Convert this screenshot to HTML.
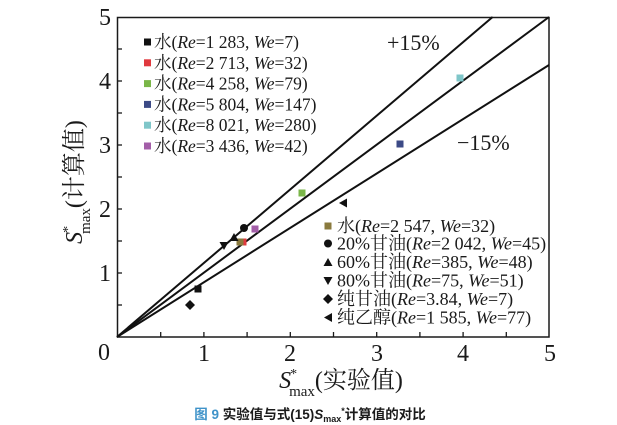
<!DOCTYPE html>
<html><head><meta charset="utf-8"><style>
html,body{margin:0;padding:0;background:#fff;}
svg{display:block;}
text{font-family:"Liberation Serif","Noto Serif CJK SC",serif;fill:#1a1a1a;}
.cap{font-family:"Liberation Sans","Noto Sans CJK SC",sans-serif;font-weight:bold;}
</style></head><body>
<svg width="617" height="425" viewBox="0 0 617 425" xmlns="http://www.w3.org/2000/svg">
<rect x="0" y="0" width="617" height="425" fill="#fff"/>
<!-- plot frame -->
<rect x="117.5" y="17.5" width="431.5" height="319.5" fill="none" stroke="#1a1a1a" stroke-width="1.5"/>
<!-- ticks bottom -->
<g stroke="#1a1a1a" stroke-width="1.3">
<line x1="160.7" y1="337" x2="160.7" y2="332"/>
<line x1="203.9" y1="337" x2="203.9" y2="332"/>
<line x1="247.1" y1="337" x2="247.1" y2="332"/>
<line x1="290.3" y1="337" x2="290.3" y2="332"/>
<line x1="333.5" y1="337" x2="333.5" y2="332"/>
<line x1="376.7" y1="337" x2="376.7" y2="332"/>
<line x1="419.9" y1="337" x2="419.9" y2="332"/>
<line x1="463.1" y1="337" x2="463.1" y2="332"/>
<line x1="506.3" y1="337" x2="506.3" y2="332"/>
<!-- ticks left -->
<line x1="117" y1="305" x2="122" y2="305"/>
<line x1="117" y1="273" x2="122" y2="273"/>
<line x1="117" y1="241" x2="122" y2="241"/>
<line x1="117" y1="209" x2="122" y2="209"/>
<line x1="117" y1="177" x2="122" y2="177"/>
<line x1="117" y1="145" x2="122" y2="145"/>
<line x1="117" y1="113" x2="122" y2="113"/>
<line x1="117" y1="81" x2="122" y2="81"/>
<line x1="117" y1="49" x2="122" y2="49"/>
</g>
<!-- reference lines -->
<g stroke="#111" stroke-width="2" fill="none">
<line x1="117" y1="337" x2="549" y2="17"/>
<line x1="117" y1="337" x2="492.6" y2="17"/>
<line x1="117" y1="337" x2="549" y2="65"/>
</g>
<!-- tick labels -->
<g font-size="24">
<text x="111" y="25" text-anchor="end">5</text>
<text x="111" y="89" text-anchor="end">4</text>
<text x="111" y="153" text-anchor="end">3</text>
<text x="111" y="217" text-anchor="end">2</text>
<text x="111" y="281" text-anchor="end">1</text>
<text x="104" y="360" text-anchor="middle">0</text>
<text x="204" y="361" text-anchor="middle">1</text>
<text x="290" y="361" text-anchor="middle">2</text>
<text x="377" y="361" text-anchor="middle">3</text>
<text x="463" y="361" text-anchor="middle">4</text>
<text x="550" y="361" text-anchor="middle">5</text>
</g>
<!-- axis titles -->
<text x="341" y="388" font-size="24" text-anchor="middle"><tspan font-style="italic">S</tspan><tspan font-size="14" dy="-10" dx="-1">*</tspan><tspan font-size="15" dy="18" dx="-8">max</tspan><tspan dy="-8">(实验值)</tspan></text>
<text transform="translate(82,182) rotate(-90)" x="0" y="0" font-size="24" text-anchor="middle"><tspan font-style="italic">S</tspan><tspan font-size="14" dy="-10" dx="-1">*</tspan><tspan font-size="15" dy="18" dx="-8">max</tspan><tspan dy="-8">(计算值)</tspan></text>
<!-- +/-15% labels -->
<text x="387" y="50" font-size="22">+15%</text>
<text x="457" y="150" font-size="22">−15%</text>
<!-- legend 1 -->
<g font-size="17.5">
<rect x="144" y="38.5" width="7" height="7" fill="#111"/>
<text x="154" y="48">水(<tspan font-style="italic">Re</tspan>=1 283, <tspan font-style="italic">We</tspan>=7)</text>
<rect x="144" y="59.3" width="7" height="7" fill="#e0393e"/>
<text x="154" y="68.8">水(<tspan font-style="italic">Re</tspan>=2 713, <tspan font-style="italic">We</tspan>=32)</text>
<rect x="144" y="80.1" width="7" height="7" fill="#7ab648"/>
<text x="154" y="89.6">水(<tspan font-style="italic">Re</tspan>=4 258, <tspan font-style="italic">We</tspan>=79)</text>
<rect x="144" y="100.9" width="7" height="7" fill="#3c4a86"/>
<text x="154" y="110.4">水(<tspan font-style="italic">Re</tspan>=5 804, <tspan font-style="italic">We</tspan>=147)</text>
<rect x="144" y="121.7" width="7" height="7" fill="#7fc6c9"/>
<text x="154" y="131.2">水(<tspan font-style="italic">Re</tspan>=8 021, <tspan font-style="italic">We</tspan>=280)</text>
<rect x="144" y="142.5" width="7" height="7" fill="#a35ea8"/>
<text x="154" y="152">水(<tspan font-style="italic">Re</tspan>=3 436, <tspan font-style="italic">We</tspan>=42)</text>
</g>
<!-- legend 2 -->
<g font-size="18">
<rect x="324.5" y="222.5" width="7" height="7" fill="#8a7a3e"/>
<text x="337" y="232">水(<tspan font-style="italic">Re</tspan>=2 547, <tspan font-style="italic">We</tspan>=32)</text>
<circle cx="328" cy="243.5" r="4" fill="#111"/>
<text x="337" y="249.5">20%甘油(<tspan font-style="italic">Re</tspan>=2 042, <tspan font-style="italic">We</tspan>=45)</text>
<polygon points="323.5,266 332.5,266 328,258" fill="#111"/>
<text x="337" y="268">60%甘油(<tspan font-style="italic">Re</tspan>=385, <tspan font-style="italic">We</tspan>=48)</text>
<polygon points="323.5,277 332.5,277 328,285" fill="#111"/>
<text x="337" y="286.5">80%甘油(<tspan font-style="italic">Re</tspan>=75, <tspan font-style="italic">We</tspan>=51)</text>
<polygon points="328,294 333,299 328,304 323,299" fill="#111"/>
<text x="337" y="305">纯甘油(<tspan font-style="italic">Re</tspan>=3.84, <tspan font-style="italic">We</tspan>=7)</text>
<polygon points="324,317.5 332,313 332,322" fill="#111"/>
<text x="337" y="323.5">纯乙醇(<tspan font-style="italic">Re</tspan>=1 585, <tspan font-style="italic">We</tspan>=77)</text>
</g>
<!-- data points -->
<rect x="194.5" y="285.5" width="7" height="7" fill="#111"/>
<rect x="239.5" y="238.5" width="7" height="7" fill="#e0393e"/>
<rect x="298.5" y="189.5" width="7" height="7" fill="#7ab648"/>
<rect x="396.5" y="140.5" width="7" height="7" fill="#3c4a86"/>
<rect x="456.5" y="74.5" width="7" height="7" fill="#7fc6c9"/>
<rect x="251.5" y="225.5" width="7" height="7" fill="#a35ea8"/>
<rect x="236.5" y="238.5" width="7" height="7" fill="#8a7a3e"/>
<circle cx="244" cy="228" r="4" fill="#111"/>
<polygon points="229.5,241 238.5,241 234,233" fill="#111"/>
<polygon points="219.5,242 228.5,242 224,250" fill="#111"/>
<polygon points="190,300 195,305 190,310 185,305" fill="#111"/>
<polygon points="339,203 347,198.5 347,207.5" fill="#111"/>
<!-- caption -->
<text class="cap" x="310" y="419" font-size="13.5" text-anchor="middle"><tspan fill="#3f93c9">图 9</tspan> 实验值与式(15)<tspan font-style="italic">S</tspan><tspan font-size="9" dy="3">max</tspan><tspan font-size="9" dy="-8">*</tspan><tspan dy="5">计算值的对比</tspan></text>
</svg>
</body></html>
